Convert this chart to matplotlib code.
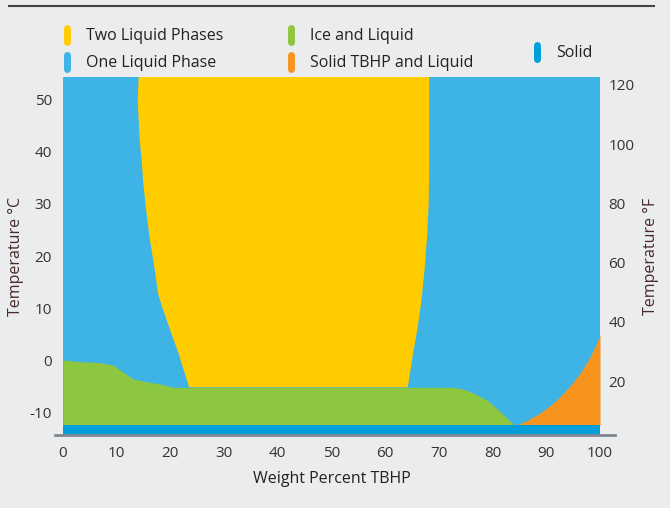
import numpy as np
import matplotlib.pyplot as plt
from matplotlib.lines import Line2D

plt.rcParams['font.family'] = ['Open Sans', 'DejaVu Sans']
plt.rcParams['axes.unicode_minus'] = False

# colours
bg = "#EBECEE"
c_two = "#FFCC00"
c_one = "#3DB3E6"
c_ice = "#8DC63F"
c_tbhp = "#F7941E"
c_solid = "#009FDA"

# phase boundaries (wt % TBHP, deg C)
solid_top = -12.5

ice_x = [0, 3, 6.9, 9.4, 11, 13.1, 15.6, 18.1, 20.6, 72.6, 74.5, 76.4, 79, 81.4, 83.8, 84.5]
ice_t = [0, -0.3, -0.5, -1.0, -2.2, -3.65, -4.2, -4.6, -5.25, -5.25, -5.6, -6.35, -7.7, -9.9, -12.3, -12.5]

tbhp_x = [84.5, 86.5, 88.8, 90.7, 92.5, 94.4, 96.3, 98, 99.4, 100]
tbhp_t = [-12.5, -11.6, -10.2, -8.8, -7.1, -5.0, -2.5, 0.3, 3.3, 4.8]

two_left_x = [23.5, 22.5, 21.5, 20.4, 19.3, 18.4, 17.7, 17.1, 16.6, 16.1, 15.4, 14.9, 14.65, 14.3, 14.15, 13.9, 14.15]
two_left_t = [-5.25, -2.0, 1.3, 4.5, 7.7, 10.4, 12.8, 17.3, 20.5, 23.7, 29.5, 34.6, 38.5, 42, 45, 50, 56]
two_right_x = [64.2, 64.7, 65.2, 66.0, 66.7, 67.3, 67.8, 68.1, 68.2, 68.2]
two_right_t = [-5.25, -2.0, 1.3, 6.0, 11, 17, 23.7, 30, 36.5, 56]

xticks = list(range(0, 101, 10))
cticks = [-10, 0, 10, 20, 30, 40, 50]
fticks = [20, 40, 60, 80, 100, 120]

legend_items = [("Two Liquid Phases", c_two), ("One Liquid Phase", c_one),
                ("Ice and Liquid", c_ice), ("Solid TBHP and Liquid", c_tbhp),
                ("Solid", c_solid)]

fig = plt.figure(figsize=(6.7, 5.08), dpi=100, facecolor=bg)
ax = fig.add_axes([63/670, 1-435/508, 537/670, 358/508])
ax.set_facecolor(c_one)
ax.set_xlim(0, 100)
ax.set_ylim(-14.42, 54.42)

# two liquid phases
poly_x = np.concatenate([two_left_x, two_right_x[::-1]])
poly_t = np.concatenate([two_left_t, two_right_t[::-1]])
ax.fill(poly_x, poly_t, color=c_two, lw=0)
# ice + liquid
ax.fill_between(ice_x, solid_top, ice_t, color=c_ice, lw=0)
# solid TBHP + liquid
ax.fill_between(tbhp_x, solid_top, tbhp_t, color=c_tbhp, lw=0)
# solid
ax.axhspan(-20, solid_top, color=c_solid, lw=0)

for s in ax.spines.values():
    s.set_visible(False)
ax.set_xticks(xticks)
ax.set_yticks(cticks)
ax.tick_params(length=0, labelsize=11, colors="#333333", pad=8)
ax.set_xlabel("Weight Percent TBHP", fontsize=11.5, color="#222222")
ax.xaxis.set_label_coords(0.5, -(471-435)/358)
ax.set_ylabel("Temperature °C", fontsize=11.5, color="#4A2B2B")
ax.yaxis.set_label_coords(-(63-24)/537, 0.5)

ax2 = ax.twinx()
ax2.set_ylim(1.76, 122.69)
ax2.set_yticks(fticks)
for s in ax2.spines.values():
    s.set_visible(False)
ax2.tick_params(length=0, labelsize=11, colors="#333333", pad=6)
ax2.set_ylabel("Temperature °F", fontsize=11.5, color="#4A2B2B")
ax2.yaxis.set_label_coords(1 + (643-600)/537, 0.5)

# bottom axis line
ax.add_line(Line2D([-8/537, 15/537 + 1], [0, 0], transform=ax.transAxes,
                   color="#7F8891", lw=2, clip_on=False))

# top rule
fig.add_artist(Line2D([8.5/670, 654/670], [1-6/508, 1-6/508], color="#444444", lw=1.5))

# legend
pos = [(67, 35), (67, 62), (291, 35), (291, 62), (537, 52)]
for (lab, col), (px, py) in zip(legend_items, pos):
    fy = 1 - py/508
    fig.add_artist(Line2D([px/670, px/670], [fy - 7/508, fy + 7/508], color=col,
                          lw=5, solid_capstyle="round"))
    fig.text((px + 19)/670, fy - 1/508, lab, fontsize=11.5, color="#222222", va="center", ha="left")

fig.savefig("out.png", dpi=100, facecolor=bg)
